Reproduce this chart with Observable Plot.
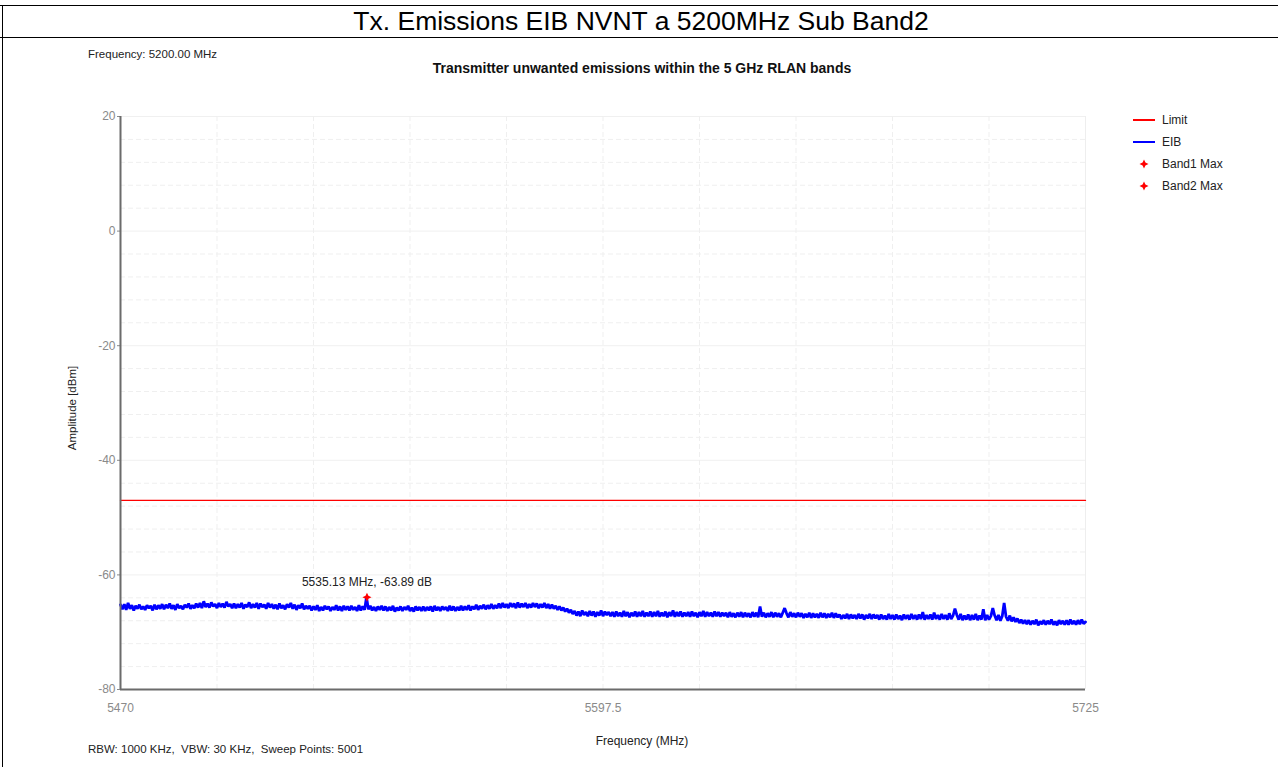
<!DOCTYPE html>
<html>
<head>
<meta charset="utf-8">
<script src="https://cdn.jsdelivr.net/npm/d3@7"></script>
<script src="https://cdn.jsdelivr.net/npm/@observablehq/plot@0.6"></script>
<style>
  html, body { margin:0; padding:0; background:#fff; }
  body { width:1278px; height:767px; position:relative; overflow:hidden; font-family:"Liberation Sans", Arial, sans-serif; color:#222; }
  .abs { position:absolute; white-space:pre; }
  #chart { position:absolute; left:0; top:0; }
</style>
</head>
<body>
<div class="abs" style="left:0;top:5px;width:1278px;height:1px;background:#000"></div>
<div class="abs" style="left:0;top:37px;width:1278px;height:1px;background:#000"></div>
<div class="abs" style="left:2px;top:5px;width:1px;height:762px;background:#000"></div>
<div class="abs" id="mainTitle" style="left:0;top:6px;width:1282px;text-align:center;font-size:26.5px;line-height:31px;color:#000"></div>
<div class="abs" id="freqNote" style="left:88px;top:48px;font-size:11.5px;color:#222"></div>
<div class="abs" id="chartTitle" style="left:0;top:60px;width:1284px;text-align:center;font-size:14px;font-weight:bold;color:#111"></div>
<div class="abs" id="yLabel" style="left:72px;top:408px;font-size:11.5px;transform:translate(-50%,-50%) rotate(-90deg);color:#222"></div>
<div class="abs" id="xLabel" style="left:0;top:734px;width:1284px;text-align:center;font-size:12px;color:#222"></div>
<div class="abs" id="footNote" style="left:88px;top:743px;font-size:11.5px;color:#222"></div>
<div id="chart"></div>
<div id="legend"></div>
<script>
// ---- Data ----
const mainTitle = "Tx. Emissions EIB NVNT a 5200MHz Sub Band2";
const chartTitle = "Transmitter unwanted emissions within the 5 GHz RLAN bands";
const freqNote = "Frequency: 5200.00 MHz";
const footNote = "RBW: 1000 KHz,  VBW: 30 KHz,  Sweep Points: 5001";
const xLabel = "Frequency (MHz)";
const yLabel = "Amplitude [dBm]";

const xTicks = [5470, 5597.5, 5725];
const yTicks = [20, 0, -20, -40, -60, -80];
const xGridLines = [5495.5, 5521, 5546.5, 5572, 5597.5, 5623, 5648.5, 5674, 5699.5];
const yMajorGrid = [20, 0, -20, -40, -60];
const yMinorGrid = [16, 12, 8, 4, -4, -8, -12, -16, -24, -28, -32, -36, -44, -48, -52, -56, -64, -68, -72, -76];

const freqStart = 5470;
const freqStep = 0.5;
const limitFreqs = [5470, 5725];
const limitValues = [-47, -47];

const legendNames = ["Limit", "EIB", "Band1 Max", "Band2 Max"];

const peakFreq = [5535.13];
const peakValue = [-63.89];

// EIB trace at 0.5 MHz spacing (5470 .. 5725)
const eibValues = [
-65.2,-66.0,-65.1,-66.1,-64.9,-65.9,-65.3,-66.2,-65.4,-65.9,-65.2,-66.0,-65.5,-66.1,-65.3,-65.8,-65.4,-66.2,-65.2,-66.0,
-65.3,-65.9,-65.1,-66.0,-65.2,-65.8,-65.0,-65.9,-65.3,-66.1,-65.1,-65.8,-65.4,-66.0,-65.2,-65.7,-65.0,-65.9,-65.3,-65.8,
-65.0,-65.7,-64.9,-65.8,-64.6,-65.6,-65.0,-65.7,-64.8,-65.5,-65.1,-65.8,-64.9,-65.6,-65.0,-65.7,-64.7,-65.5,-65.1,-65.8,
-65.0,-65.8,-65.1,-65.7,-64.9,-65.9,-65.2,-65.6,-64.8,-65.8,-65.1,-65.7,-64.9,-65.9,-65.0,-65.6,-65.2,-65.9,-64.9,-65.7,
-65.1,-65.9,-65.2,-66.0,-65.0,-65.8,-65.3,-66.0,-65.1,-65.7,-64.9,-65.9,-65.2,-66.1,-65.3,-65.8,-65.0,-66.0,-65.4,-65.9,
-65.4,-66.2,-65.5,-66.1,-65.3,-66.3,-65.6,-66.2,-65.4,-66.0,-65.5,-66.3,-65.6,-66.1,-65.3,-66.2,-65.5,-66.3,-65.4,-66.1,
-65.5,-66.2,-65.4,-66.1,-65.6,-66.3,-65.3,-66.2,-65.5,-66.1,-63.9,-66.0,-65.4,-66.2,-65.6,-66.3,-65.5,-66.1,-65.4,-66.2,
-65.5,-66.3,-65.6,-66.2,-65.4,-66.4,-65.7,-66.2,-65.5,-66.3,-65.6,-66.1,-65.4,-66.3,-65.7,-66.4,-65.5,-66.2,-65.6,-66.3,
-65.5,-66.3,-65.6,-66.2,-65.5,-66.4,-65.4,-66.2,-65.6,-66.3,-65.5,-66.1,-65.6,-66.3,-65.4,-66.2,-65.5,-66.3,-65.6,-66.2,
-65.4,-66.2,-65.5,-66.1,-65.3,-66.2,-65.5,-66.0,-65.2,-66.1,-65.4,-65.9,-65.2,-66.0,-65.3,-65.9,-65.1,-65.9,-65.3,-65.8,
-65.0,-65.8,-64.9,-65.7,-65.1,-65.8,-64.9,-65.6,-65.0,-65.8,-64.8,-65.7,-65.0,-65.6,-64.9,-65.8,-65.1,-65.7,-64.9,-65.6,
-65.0,-65.8,-65.1,-65.7,-64.9,-65.8,-65.1,-65.9,-65.2,-65.9,-65.4,-66.1,-65.5,-66.2,-65.7,-66.4,-65.9,-66.6,-66.1,-66.8,
-66.3,-67.1,-66.4,-67.2,-66.2,-67.0,-66.5,-67.2,-66.3,-67.1,-66.4,-67.3,-66.5,-67.1,-66.2,-67.2,-66.4,-67.0,-66.5,-67.2,
-66.5,-67.3,-66.4,-67.2,-66.6,-67.3,-66.3,-67.2,-66.5,-67.4,-66.6,-67.2,-66.4,-67.3,-66.5,-67.2,-66.3,-67.3,-66.6,-67.2,
-66.4,-67.3,-66.5,-67.2,-66.3,-67.3,-66.6,-67.2,-66.4,-67.4,-66.5,-67.2,-66.2,-67.3,-66.5,-67.2,-66.4,-67.3,-66.6,-67.2,
-66.5,-67.3,-66.4,-67.2,-66.6,-67.4,-66.5,-67.2,-66.3,-67.3,-66.5,-67.2,-66.6,-67.3,-66.4,-67.2,-66.5,-67.3,-66.6,-67.2,
-66.6,-67.4,-66.5,-67.3,-66.7,-67.4,-66.6,-67.3,-66.5,-67.4,-66.6,-67.3,-66.7,-67.4,-66.5,-67.3,-66.6,-67.4,-65.5,-67.3,
-66.6,-67.4,-66.7,-67.3,-66.5,-67.4,-66.6,-67.3,-66.7,-67.4,-66.6,-65.8,-66.7,-67.4,-66.5,-67.3,-66.7,-67.4,-66.6,-67.3,
-66.7,-67.5,-66.8,-67.4,-66.6,-67.5,-66.7,-67.4,-66.8,-67.5,-66.6,-67.4,-66.7,-67.5,-66.8,-67.4,-66.6,-67.5,-66.7,-67.4,
-66.9,-67.7,-67.0,-67.6,-66.8,-67.7,-66.9,-67.6,-67.0,-67.7,-66.8,-67.6,-66.9,-67.8,-67.0,-67.6,-66.8,-67.7,-66.9,-67.6,
-67.0,-67.8,-66.9,-67.7,-67.1,-67.8,-66.8,-67.7,-67.0,-67.8,-66.9,-67.7,-67.1,-67.9,-66.9,-67.7,-67.0,-67.8,-66.8,-67.7,
-67.0,-67.8,-66.9,-67.7,-66.5,-67.8,-67.0,-67.7,-66.9,-67.8,-66.6,-67.7,-67.0,-67.8,-66.8,-67.7,-67.0,-67.8,-66.7,-67.7,
-67.1,-65.9,-67.0,-67.8,-66.8,-67.9,-67.1,-67.8,-66.9,-67.9,-67.0,-67.8,-66.8,-67.9,-67.1,-67.8,-66.0,-67.9,-67.0,-67.8,
-67.2,-65.8,-67.1,-67.9,-67.0,-68.0,-67.2,-64.9,-67.3,-68.0,-67.1,-68.1,-67.4,-68.2,-67.6,-68.4,-67.8,-68.5,-67.9,-68.6,
-67.9,-68.7,-68.0,-68.6,-67.8,-68.8,-68.1,-68.6,-67.9,-68.7,-68.0,-68.6,-67.8,-68.7,-68.1,-68.8,-67.9,-68.6,-68.0,-68.7,
-67.9,-68.7,-67.8,-68.6,-68.0,-68.7,-67.9,-68.6,-67.8,-68.5,-68.2
];

// ---- Build tables ----
const eib = eibValues.map((v, i) => ({f: freqStart + i * freqStep, v}));
const limit = limitFreqs.map((f, i) => ({f, v: limitValues[i]}));
const peaks = peakFreq.map((f, i) => ({f, v: peakValue[i]}));

const star4 = {
  draw(ctx, size) {
    const r = Math.sqrt(size) * 0.85, k = r * 0.32;
    ctx.moveTo(0, -r); ctx.lineTo(k, -k); ctx.lineTo(r, 0); ctx.lineTo(k, k);
    ctx.lineTo(0, r); ctx.lineTo(-k, k); ctx.lineTo(-r, 0); ctx.lineTo(-k, -k); ctx.closePath();
  }
};

document.getElementById("mainTitle").textContent = mainTitle;
document.getElementById("chartTitle").textContent = chartTitle;
document.getElementById("freqNote").textContent = freqNote;
document.getElementById("footNote").textContent = footNote;
document.getElementById("xLabel").textContent = xLabel;
document.getElementById("yLabel").textContent = yLabel;

const plot = Plot.plot({
  width: 1278, height: 767,
  marginLeft: 120, marginRight: 193, marginTop: 116, marginBottom: 78,
  style: {fontFamily: "'Liberation Sans', Arial, sans-serif", fontSize: "12px", background: "transparent", overflow: "visible"},
  x: {domain: [5470, 5725]},
  y: {domain: [-80, 20]},
  marks: [
    Plot.ruleY(yMinorGrid, {stroke: "#efefef", strokeDasharray: "5,3"}),
    Plot.ruleY(yMajorGrid, {stroke: "#f0f0f0"}),
    Plot.ruleX(xGridLines, {stroke: "#efefef", strokeDasharray: "5,3"}),
    Plot.ruleX([5725], {stroke: "#eeeeee"}),
    Plot.line(limit, {x: "f", y: "v", stroke: "#ff0000", strokeWidth: 1.3}),
    Plot.line(eib, {x: "f", y: "v", stroke: "#0000ff", strokeWidth: 2.8, strokeLinejoin: "miter"}),
    Plot.dot(peaks, {x: "f", y: "v", symbol: star4, fill: "#ff0000", r: 3}),
    Plot.text(peaks, {x: "f", y: "v", text: d => `${d.f.toFixed(2)} MHz, ${d.v.toFixed(2)} dB`, dy: -15, fontSize: 12, fill: "#222"}),
    Plot.axisY({ticks: yTicks, tickSize: 3, tickPadding: 2, label: null, fontSize: 12, color: "#8a8a8a", tickFormat: d => String(d)}),
    Plot.axisX({ticks: xTicks, tickSize: 0, tickPadding: 14, label: null, fontSize: 12, color: "#8a8a8a", tickFormat: d => String(d)}),
    Plot.ruleX([5470], {stroke: "#6b6b6b", strokeWidth: 2}),
    Plot.ruleY([-80], {stroke: "#6b6b6b", strokeWidth: 2})
  ]
});
document.getElementById("chart").appendChild(plot);

// ---- Legend ----
const legend = document.getElementById("legend");
const legendY = [120, 142, 164, 186];
const legendKinds = ["line", "line", "star", "star"];
const legendColors = ["#ff0000", "#0000ff", "#ff0000", "#ff0000"];
legendNames.forEach((name, i) => {
  const sym = legendKinds[i] === "line"
    ? `<div class="abs" style="left:1133px;top:${legendY[i]-1}px;width:22px;height:2px;background:${legendColors[i]}"></div>`
    : `<svg class="abs" style="left:1139px;top:${legendY[i]-5}px" width="10" height="10"><path d="M5,0.5L6.4,3.6L9.5,5L6.4,6.4L5,9.5L3.6,6.4L0.5,5L3.6,3.6Z" fill="${legendColors[i]}"/></svg>`;
  legend.insertAdjacentHTML("beforeend", sym +
    `<div class="abs" style="left:1162px;top:${legendY[i]-7}px;font-size:12px;color:#222">${name}</div>`);
});
</script>
</body>
</html>
